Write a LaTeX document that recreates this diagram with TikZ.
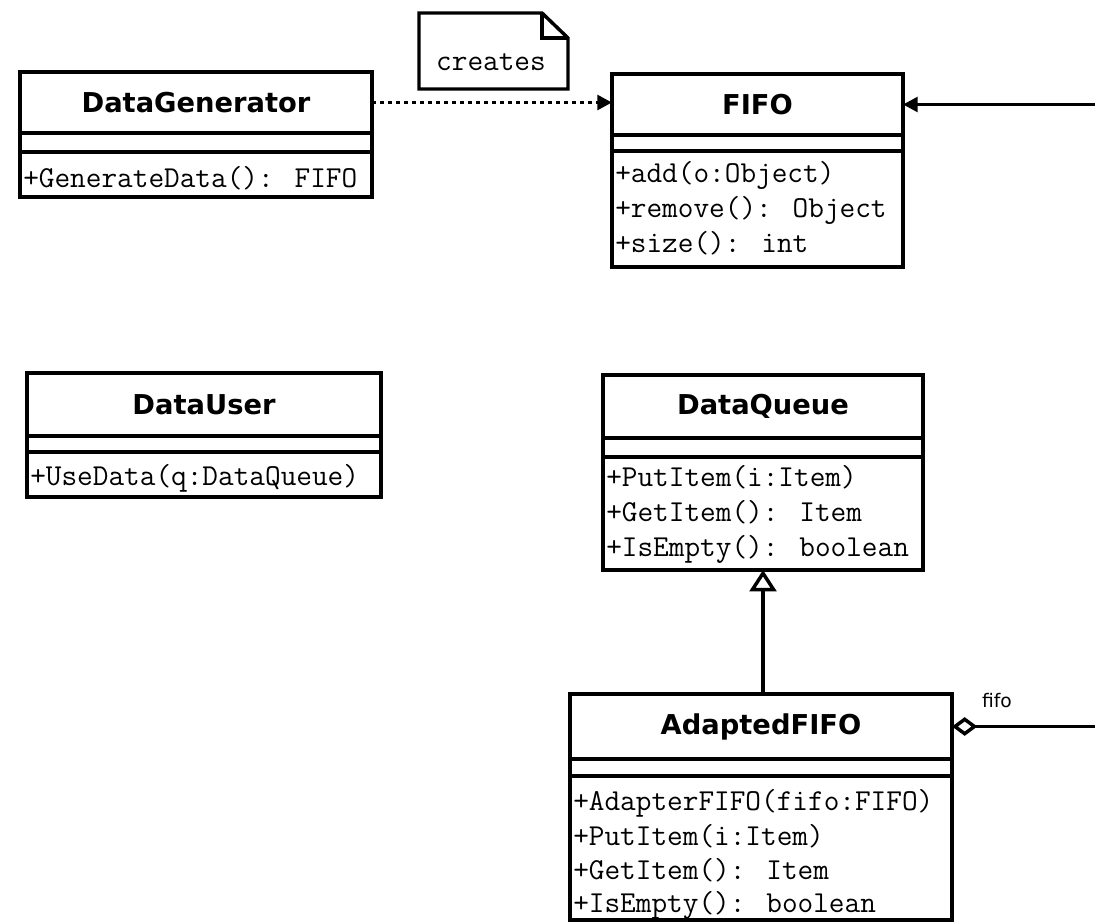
\documentclass[tikz,border=0pt]{standalone}
\usepackage{fontspec}
\newfontfamily\titlefont{DejaVu Sans}
\newfontfamily\labelfont{DejaVu Sans}
\usetikzlibrary{arrows.meta}
\newdimen\px \px=0.75pt
\begin{document}
\begin{tikzpicture}[x=0.75pt,y=-0.75pt,
  cls/.style={draw, line width=2.6pt, inner sep=0pt, outer sep=0pt, anchor=north west},
  ttl/.style={inner sep=0pt, outer sep=0pt, anchor=north west, font=\titlefont\bfseries\fontsize{20.5}{24}\selectfont},
  meth/.style={inner sep=0pt, anchor=base west, font=\ttfamily\fontsize{22.8}{26}\selectfont},
  rule/.style={line width=2.6pt},
  dep/.style={line width=2.6pt, dash pattern=on 4\px off 4\px, -{Triangle[length=11pt,width=11pt]}},
  agg/.style={line width=2.6pt, {Diamond[open,length=19pt,width=14pt]}-{Triangle[length=11pt,width=11pt]}},
  gen/.style={line width=2.6pt, -{Triangle[open,length=16pt,width=20pt]}},
  lbl/.style={inner sep=0pt, font=\labelfont\fontsize{14}{16}\selectfont}
]
\clip (0,0) rectangle (1095,923);
\fill[white] (0,0) rectangle (1095,923);

% DataGenerator
\node[cls, minimum width=352\px, minimum height=125\px] (dg) at (20,72) {};
\node[ttl, minimum width=352\px, minimum height=61\px] (dgT) at (20,72) {DataGenerator};
\draw[rule] (dgT.south west) -- (dgT.south east);
\draw[rule] (20,152) -- (372,152);
\node[meth] (dgM1) at (23,188) {+GenerateData(): FIFO};

% note
\draw[rule] (419,13) -- (542,13) -- (568,38) -- (568,89) -- (419,89) -- cycle;
\draw[rule] (542,13) -- (542,38) -- (568,38);
\node[meth, anchor=center] (note) at (491,62) {creates};

% FIFO
\node[cls, minimum width=291\px, minimum height=193\px] (fifo) at (612,74) {};
\node[ttl, minimum width=291\px, minimum height=61\px] (fifoT) at (612,74) {FIFO};
\draw[rule] (fifoT.south west) -- (fifoT.south east);
\draw[rule] (612,151) -- (903,151);
\node[meth] (fifoM1) at (615,183) {+add(o:Object)};
\node[meth] (fifoM2) at (615,218) {+remove(): Object};
\node[meth] (fifoM3) at (615,253) {+size(): int};

% DataUser
\node[cls, minimum width=354\px, minimum height=124\px] (du) at (27,373) {};
\node[ttl, minimum width=354\px, minimum height=63\px] (duT) at (27,373) {DataUser};
\draw[rule] (duT.south west) -- (duT.south east);
\draw[rule] (27,452) -- (381,452);
\node[meth] (duM1) at (30,485) {+UseData(q:DataQueue)};

% DataQueue
\node[cls, minimum width=320\px, minimum height=195\px] (dq) at (603,375) {};
\node[ttl, minimum width=320\px, minimum height=63\px] (dqT) at (603,375) {DataQueue};
\draw[rule] (dqT.south west) -- (dqT.south east);
\draw[rule] (603,457) -- (923,457);
\node[meth] (dqM1) at (606,486) {+PutItem(i:Item)};
\node[meth] (dqM2) at (606,521) {+GetItem(): Item};
\node[meth] (dqM3) at (606,556) {+IsEmpty(): boolean};

% AdaptedFIFO
\node[cls, minimum width=382\px, minimum height=226\px] (af) at (570,694) {};
\node[ttl, minimum width=382\px, minimum height=65\px] (afT) at (570,694) {AdaptedFIFO};
\draw[rule] (afT.south west) -- (afT.south east);
\draw[rule] (570,776) -- (952,776);
\node[meth] (afM1) at (573,810) {+AdapterFIFO(fifo:FIFO)};
\node[meth] (afM2) at (573,845) {+PutItem(i:Item)};
\node[meth] (afM3) at (573,879) {+GetItem(): Item};
\node[meth] (afM4) at (573,912) {+IsEmpty(): boolean};

% connectors
\draw[dep] (dgT.east) -- (dgT.east -| fifoT.west);
\coordinate (rside) at (1100,400);
\draw[agg] (afT.east) -- (afT.east -| rside) -- (rside |- fifoT.east) -- (fifoT.east);
\node[lbl] (fifoLbl) at (997,701) {fifo};
\draw[gen] (dq.south |- af.north) -- (dq.south);
\end{tikzpicture}
\end{document}
